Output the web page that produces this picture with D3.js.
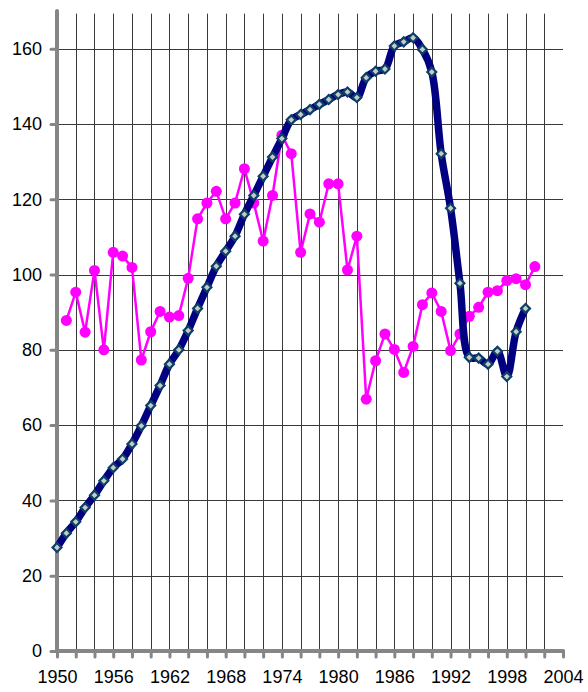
<!DOCTYPE html>
<html>
<head>
<meta charset="utf-8">
<script src="https://cdn.jsdelivr.net/npm/d3@7"></script>
<style>
	body { margin: 0; background: #fff; }
	text { font-family: "Liberation Sans", Arial, sans-serif; }
</style>
</head>
<body>
<div id="chartDiv"></div>
<script>
// series data
var blueYears = d3.range(1950, 2001);
var blueValues = [27.5, 31.3, 34.3, 38.1, 41.4, 45.2, 48.7, 51.0, 55.0, 59.8,
	65.2, 70.5, 76.2, 80.0, 85.1, 91.0, 96.6, 102.2, 106.2, 110.2,
	116.0, 121.0, 126.1, 131.2, 136.1, 141.1, 142.5, 143.8, 145.2, 146.5,
	147.8, 148.5, 147.0, 152.3, 154.0, 154.6, 160.7, 161.8, 162.9, 159.8,
	153.8, 132.1, 117.6, 97.7, 78.0, 77.8, 76.2, 79.6, 72.9, 84.8, 91.0];

var pinkYears = d3.range(1951, 2002);
var pinkValues = [87.8, 95.3, 84.7, 101.1, 80.0, 105.9, 104.9, 101.9, 77.3, 84.8,
	90.2, 88.7, 89.1, 99.0, 114.8, 119.0, 122.1, 114.8, 119.0, 128.1,
	119.0, 108.9, 121.0, 137.0, 132.1, 105.9, 116.1, 113.9, 124.1, 124.1,
	101.2, 110.2, 66.9, 77.1, 84.2, 80.1, 74.0, 80.9, 92.0, 95.1,
	90.2, 79.8, 84.2, 88.9, 91.3, 95.3, 95.7, 98.4, 98.9, 97.3, 102.1];

var xTickLabels = d3.range(1950, 2005, 6);
var xGridYears = d3.range(1952, 2003, 2);
var yTickValues = d3.range(0, 161, 20);

;(function() {

	var width = 588;
	var height = 692;
	var margin = { top: 11, right: 25, bottom: 41, left: 57 };
	var chartWidth = width - margin.left - margin.right;
	var chartHeight = height - margin.top - margin.bottom;

	var svg = d3.select("#chartDiv").append("svg")
		.attr("width", width)
		.attr("height", height);

	var plot = svg.append("g")
		.attr("transform", "translate(" + margin.left + "," + margin.top + ")");

	var xScale = d3.scaleLinear()
		.domain([1950, 2004])
		.range([0, chartWidth]);

	var yScale = d3.scaleLinear()
		.domain([0, 170])
		.range([chartHeight, 0]);

	// grid
	plot.selectAll(".vgrid")
		.data(xGridYears)
		.enter().append("line")
			.attr("class", "vgrid")
			.attr("x1", function(d) { return Math.round(xScale(d)) + 0.5; })
			.attr("x2", function(d) { return Math.round(xScale(d)) + 0.5; })
			.attr("y1", yScale(169.3))
			.attr("y2", yScale(0))
			.attr("stroke", "#3a3a3a")
			.attr("stroke-width", 1);

	plot.selectAll(".hgrid")
		.data(yTickValues.filter(function(d) { return d > 0; }))
		.enter().append("line")
			.attr("class", "hgrid")
			.attr("x1", 0)
			.attr("x2", xScale(2004))
			.attr("y1", function(d) { return Math.round(yScale(d)) + 0.5; })
			.attr("y2", function(d) { return Math.round(yScale(d)) + 0.5; })
			.attr("stroke", "#3a3a3a")
			.attr("stroke-width", 1);

	// axes
	var xAxis = d3.axisBottom(xScale)
		.tickValues(d3.range(1950, 2005, 2))
		.tickSize(6)
		.tickSizeOuter(0)
		.tickFormat(function(d) { return xTickLabels.indexOf(d) >= 0 ? d : ""; });

	var xAxisG = plot.append("g")
		.attr("class", "x axis")
		.attr("transform", "translate(0," + chartHeight + ")")
		.call(xAxis);

	var yAxis = d3.axisLeft(yScale)
		.tickValues(yTickValues)
		.tickSize(6)
		.tickSizeOuter(0)
		.tickPadding(9);

	var yAxisG = plot.append("g")
		.attr("class", "y axis")
		.call(yAxis);

	[xAxisG, yAxisG].forEach(function(g) {
		g.select(".domain").remove();
		g.selectAll(".tick line")
			.attr("stroke", "#868686")
			.attr("stroke-width", 3)
			.attr("stroke-linecap", "round");
		g.selectAll(".tick text")
			.attr("fill", "#000")
			.style("font-size", "18px")
			.style("font-family", "'Liberation Sans', Arial, sans-serif");
	});
	xAxisG.selectAll(".tick text").attr("dy", "1em").attr("y", 14);

	// axis lines
	plot.append("line")
		.attr("x1", 0).attr("x2", 0)
		.attr("y1", yScale(170)).attr("y2", yScale(0))
		.attr("stroke", "#868686")
		.attr("stroke-width", 4)
		.attr("stroke-linecap", "round");

	plot.append("line")
		.attr("x1", 0).attr("x2", xScale(2004))
		.attr("y1", yScale(0)).attr("y2", yScale(0))
		.attr("stroke", "#868686")
		.attr("stroke-width", 4)
		.attr("stroke-linecap", "round");

	var pinkData = pinkYears.map(function(y, i) { return { year: y, value: pinkValues[i] }; });
	var blueData = blueYears.map(function(y, i) { return { year: y, value: blueValues[i] }; });

	// pink series
	var pinkLine = d3.line()
		.x(function(d) { return xScale(d.year); })
		.y(function(d) { return yScale(d.value); });

	plot.append("path")
		.datum(pinkData)
		.attr("d", pinkLine)
		.attr("fill", "none")
		.attr("stroke", "#ff00ff")
		.attr("stroke-width", 2.5);

	plot.selectAll(".pinkDot")
		.data(pinkData)
		.enter().append("circle")
			.attr("class", "pinkDot")
			.attr("cx", function(d) { return xScale(d.year); })
			.attr("cy", function(d) { return yScale(d.value); })
			.attr("r", 5.5)
			.attr("fill", "#ff00ff");

	// blue series
	var blueLine = d3.line()
		.curve(d3.curveCatmullRom)
		.x(function(d) { return xScale(d.year); })
		.y(function(d) { return yScale(d.value); });

	plot.append("path")
		.datum(blueData)
		.attr("d", blueLine)
		.attr("fill", "none")
		.attr("stroke", "#000080")
		.attr("stroke-width", 7.5)
		.attr("stroke-linejoin", "round");

	var diamond = d3.symbol().type(d3.symbolSquare).size(40);

	plot.selectAll(".blueDot")
		.data(blueData)
		.enter().append("path")
			.attr("class", "blueDot")
			.attr("d", diamond)
			.attr("transform", function(d) {
				return "translate(" + xScale(d.year) + "," + yScale(d.value) + ") rotate(45)";
			})
			.attr("fill", "#c8c8c8")
			.attr("stroke", "#0b3f66")
			.attr("stroke-width", 2.2);

})();
</script>
</body>
</html>
